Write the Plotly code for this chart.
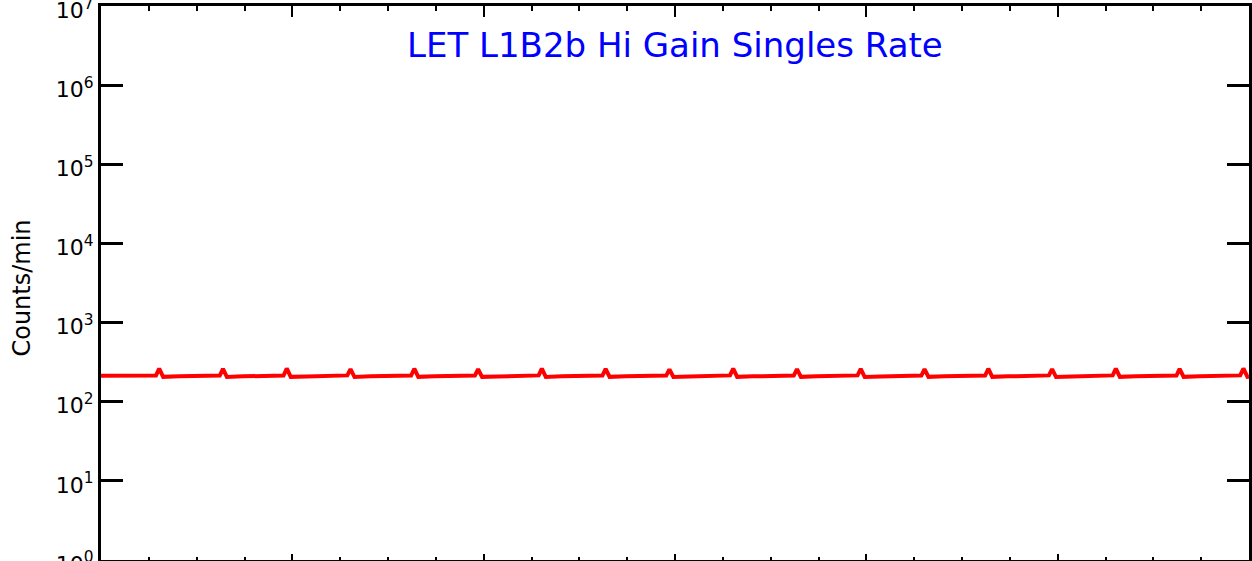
import plotly.graph_objects as go

# Time in hours from start of the 6-day window
hours = [
    0.0, 2.0, 4.5, 6.9, 7.3,
    7.8, 9.8, 12.3, 14.9, 15.3,
    15.8, 17.8, 20.3, 22.9, 23.3,
    23.8, 25.8, 28.3, 30.9, 31.3,
    31.8, 33.8, 36.3, 38.9, 39.3,
    39.8, 41.8, 44.3, 46.9, 47.3,
    47.8, 49.8, 52.3, 54.9, 55.3,
    55.8, 57.8, 60.3, 62.9, 63.3,
    63.8, 65.8, 68.3, 70.9, 71.3,
    71.8, 73.8, 76.3, 78.9, 79.3,
    79.8, 81.8, 84.3, 86.9, 87.3,
    87.8, 89.8, 92.3, 94.9, 95.3,
    95.8, 97.8, 100.3, 102.9, 103.3,
    103.8, 105.8, 108.3, 110.9, 111.3,
    111.8, 113.8, 116.3, 118.9, 119.3,
    119.8, 121.8, 124.3, 126.9, 127.3,
    127.8, 129.8, 132.3, 134.9, 135.3,
    135.8, 137.8, 140.3, 142.9, 143.3,
    143.8, 144.0,
]

# Counts/min
counts = [
    212, 213, 212, 215, 262,
    206, 209, 211, 214, 259,
    205, 209, 212, 214, 263,
    206, 208, 211, 215, 258,
    205, 209, 211, 214, 261,
    206, 209, 212, 214, 257,
    206, 208, 211, 215, 262,
    205, 209, 212, 214, 259,
    206, 209, 211, 214, 256,
    205, 208, 212, 215, 262,
    206, 209, 211, 214, 258,
    206, 209, 212, 215, 260,
    205, 208, 211, 214, 257,
    206, 209, 212, 214, 261,
    206, 209, 211, 215, 258,
    205, 208, 212, 215, 262,
    206, 209, 211, 214, 259,
    206, 209, 212, 215, 263,
    206, 207,
]

x_major = [0, 24, 48, 72, 96, 120, 144]
y_tickvals = [1, 10, 100, 1000, 10000, 100000, 1000000, 10000000]
y_ticktext = ["10<sup>%d</sup>" % i for i in range(8)]

title_text = "LET L1B2b Hi Gain Singles Rate"
ylabel_text = "Counts/min"

font_family = "DejaVu Sans, Liberation Sans, sans-serif"

fig = go.Figure()
fig.add_trace(go.Scatter(
    x=hours, y=counts, mode="lines",
    line=dict(color="#ff0000", width=4),
    showlegend=False, hoverinfo="skip",
))
# invisible trace to carry the top axis
fig.add_trace(go.Scatter(
    x=[0, 144], y=[1, 1], xaxis="x2", mode="lines",
    line=dict(color="rgba(0,0,0,0)", width=0),
    showlegend=False, hoverinfo="skip",
))

fig.update_layout(
    width=1252, height=561,
    margin=dict(l=101, r=3, t=6, b=1),
    paper_bgcolor="white", plot_bgcolor="white",
    font=dict(family=font_family, color="black"),
    xaxis=dict(
        range=[0, 144], showgrid=False, zeroline=False, automargin=False,
        showline=True, linecolor="black", linewidth=3,
        ticks="inside", tickvals=x_major, ticklen=6, tickwidth=2,
        tickcolor="black", showticklabels=False,
        minor=dict(dtick=6, tick0=0, ticks="inside", ticklen=3,
                   tickwidth=2, tickcolor="black", showgrid=False),
    ),
    xaxis2=dict(
        range=[0, 144], overlaying="x", side="top", showgrid=False,
        zeroline=False, automargin=False,
        showline=True, linecolor="black", linewidth=3,
        ticks="inside", tickvals=x_major, ticklen=11, tickwidth=2,
        tickcolor="black", showticklabels=False,
        minor=dict(dtick=6, tick0=0, ticks="inside", ticklen=5,
                   tickwidth=2, tickcolor="black", showgrid=False),
    ),
    yaxis=dict(
        type="log", range=[-0.0005, 7.0005], showgrid=False, zeroline=False,
        automargin=False, ticklabeloverflow="allow", ticklabelshift=4,
        showline=True, linecolor="black", linewidth=3, mirror="ticks",
        ticks="inside", ticklen=22, tickwidth=3, tickcolor="black",
        tickvals=y_tickvals, ticktext=y_ticktext,
        tickfont=dict(size=22, color="black", family=font_family),
    ),
)

fig.add_annotation(
    text=title_text, xref="paper", yref="paper",
    x=0.5, y=0.93, xanchor="center", yanchor="middle",
    showarrow=False,
    font=dict(size=34, color="#0000ff", family=font_family),
)

fig.add_annotation(
    text=ylabel_text, xref="paper", yref="paper",
    x=0, y=0.49, xanchor="center", yanchor="middle",
    xshift=-79, textangle=-90, showarrow=False,
    font=dict(size=24, color="black", family=font_family),
)

fig.write_html(
    "out.html",
    config={"displayModeBar": False},
    post_script="document.body.style.margin='0px';document.body.style.overflow='hidden';",
)
